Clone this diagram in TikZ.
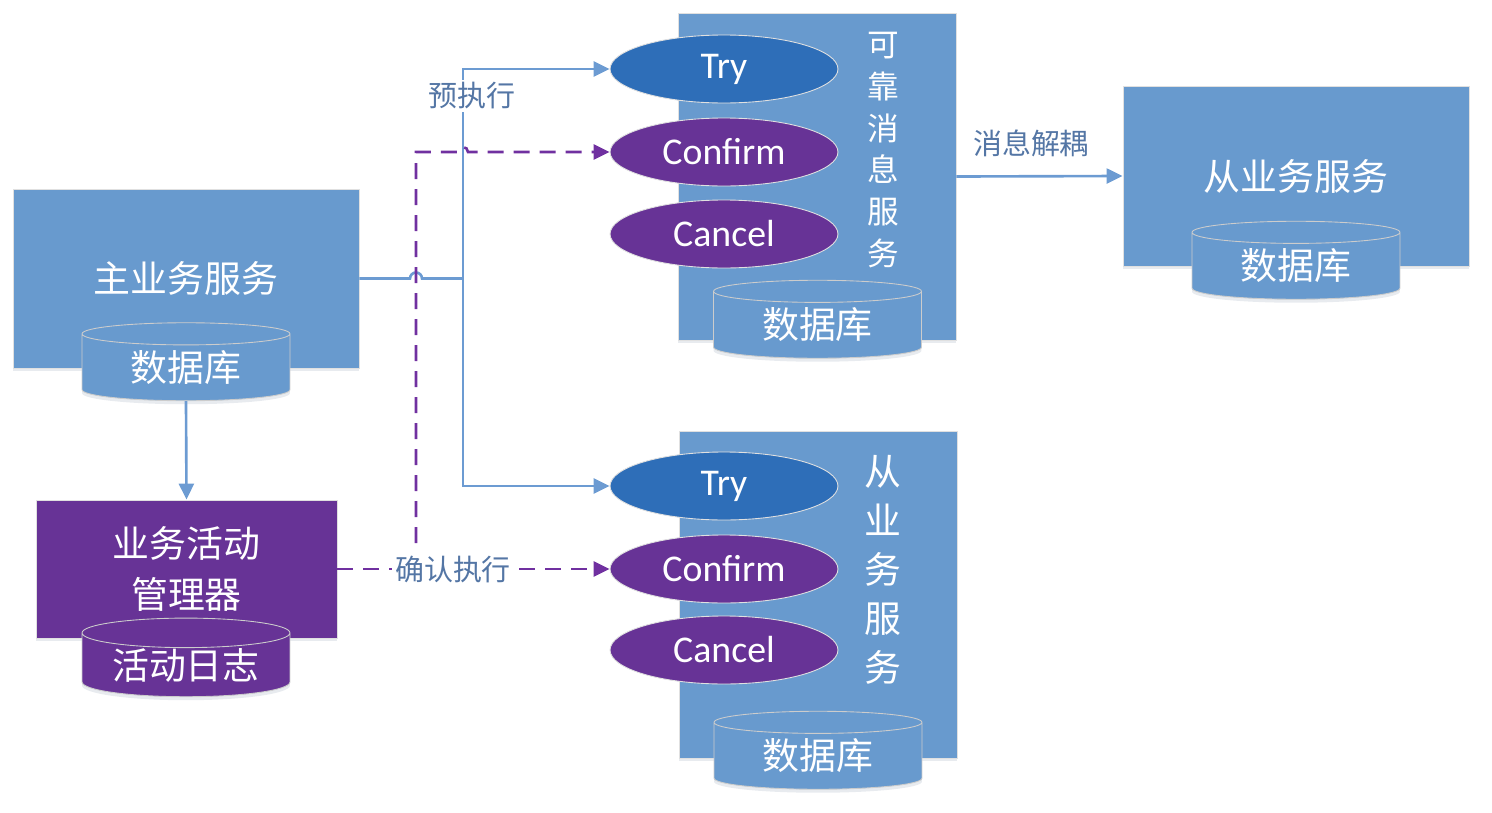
\documentclass[tikz,border=0pt]{standalone}
\usepackage{fontspec}
\setmainfont{Noto Sans CJK SC}
\newfontfamily\latinfont{Carlito}
\usepackage{tikz}
\usetikzlibrary{shapes.geometric, arrows.meta, positioning, calc, shadows}
\definecolor{SvcBlue}{RGB}{104, 154, 206}
\definecolor{TryBlue}{RGB}{46, 110, 184}
\definecolor{ActPurple}{RGB}{103, 51, 150}
\definecolor{LinkBlue}{RGB}{108, 155, 210}
\definecolor{CtrlPurple}{RGB}{112, 48, 160}
\definecolor{LabelGray}{RGB}{84, 118, 165}

\tikzset{
  softshadow/.style={drop shadow={opacity=0.12, shadow xshift=0pt, shadow yshift=-0.07cm, fill=SvcBlue!60!black}},
  svcbox/.style={rectangle, fill=SvcBlue, draw=black!12, line width=0.5pt, text=white,
    font=\fontsize{21}{25}\selectfont, inner sep=0pt, softshadow},
  mgrbox/.style={svcbox, fill=ActPurple},
  dbcyl/.style={cylinder, shape border rotate=90, shape aspect=0.2, fill=SvcBlue,
    draw=black!20, line width=0.5pt, text=white, font=\fontsize{21}{25}\selectfont,
    minimum width=4.16cm, minimum height=1.56cm, inner sep=0pt, softshadow},
  opnode/.style={ellipse, minimum width=4.56cm, minimum height=1.36cm, inner sep=0pt,
    fill=ActPurple, draw=black!12, line width=0.5pt, text=white,
    font=\latinfont\fontsize{21.5}{25}\selectfont},
  tryop/.style={opnode, fill=TryBlue},
  coltext/.style={text=white, align=center, inner sep=0pt},
  link/.style={LinkBlue, line width=1.5pt},
  ctrl/.style={CtrlPurple, line width=1.5pt, dash pattern=on 0.32cm off 0.2cm},
  arrowed/.style={-{Triangle[length=0.32cm, width=0.3cm]}},
  edgelbl/.style={fill=white, text=LabelGray, font=\fontsize{16.5}{20}\selectfont, inner sep=1.5pt}
}

\begin{document}
\begin{tikzpicture}[x=0.02cm, y=-0.02cm]
  \useasboundingbox (0,0) rectangle (1492,812);

  \node[svcbox, minimum width=6.92cm, minimum height=3.58cm] (main) at (186,278.5) {主业务服务};
  \node[dbcyl] (maindb) at (186,367.5) {数据库};
  \node[mgrbox, minimum width=6.02cm, minimum height=2.76cm, align=center,
    font=\fontsize{21}{28.5}\selectfont] (bam) at (186.5,569) {业务活动\\管理器};
  \node[dbcyl, fill=ActPurple] (logdb) at (186,665) {活动日志};

  \node[svcbox, minimum width=5.56cm, minimum height=6.54cm] (rms) at (817,176.5) {};
  \node[coltext, font=\fontsize{18}{23.8}\selectfont] (rmsname) at (883,150) {可\\靠\\消\\息\\服\\务};
  \node[tryop] (try1) at (724,69) {Try};
  \node[opnode] (confirm1) at (724,152) {Confirm};
  \node[opnode] (cancel1) at (724,234) {Cancel};
  \node[dbcyl] (rmsdb) at (817.5,325) {数据库};

  \node[svcbox, minimum width=5.56cm, minimum height=6.54cm] (sub) at (818,594.5) {};
  \node[coltext, font=\fontsize{21}{27.9}\selectfont] (subname) at (883,570) {从\\业\\务\\服\\务};
  \node[tryop] (try2) at (724,486) {Try};
  \node[opnode] (confirm2) at (724,569) {Confirm};
  \node[opnode] (cancel2) at (724,650) {Cancel};
  \node[dbcyl] (subdb) at (818,756) {数据库};

  \node[svcbox, minimum width=6.92cm, minimum height=3.6cm] (peer) at (1296,176) {从业务服务};
  \node[dbcyl] (peerdb) at (1296,266) {数据库};

  \coordinate (split) at (463,278.5);
  \coordinate (bus) at (416,569);
  \draw[link] (main.east) -- ([xshift=-0.12cm]bus |- main.east)
    arc[start angle=180, end angle=0, radius=0.12cm] -- (split);
  \draw[link, arrowed] (split) |- (try1.west);
  \draw[link, arrowed] (split) |- (try2.west);
  \draw[ctrl, arrowed] (bam.east) -- (confirm2.west);
  \draw[ctrl, arrowed] (bus) -- (bus |- confirm1.west) -- ([xshift=-0.1cm]split |- confirm1.west)
    arc[start angle=180, end angle=0, radius=0.1cm] -- (confirm1.west);
  \draw[link, arrowed] (maindb.south) -- (bam.north);
  \draw[link, arrowed] (rms.east) -- (peer.west);

  \node[edgelbl] (prelbl) at (472,96) {预执行};
  \node[edgelbl] (cfmlbl) at (453,569) {确认执行};
  \node[edgelbl, fill=none] (declbl) at (1031,143) {消息解耦};
\end{tikzpicture}
\end{document}
